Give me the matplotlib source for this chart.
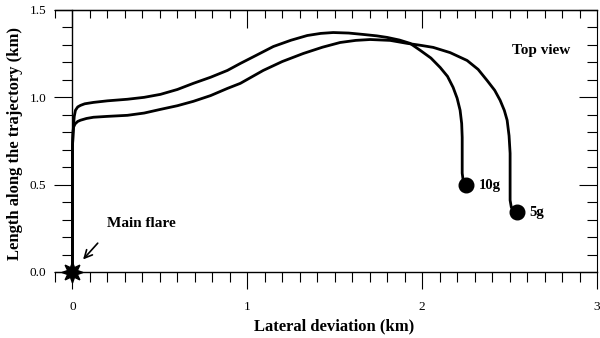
import matplotlib
matplotlib.use("Agg")
import matplotlib.pyplot as plt
import numpy as np
from matplotlib.ticker import MultipleLocator

plt.rcParams['font.family'] = ['Liberation Serif', 'DejaVu Serif']

# Trajectory for 10g (top view)
x_10g = [0.0, 0.0, 0.003, 0.006, 0.01, 0.017, 0.03, 0.046, 0.07, 0.12, 0.2, 0.314,
         0.41, 0.503, 0.6, 0.691, 0.79, 0.886, 0.96, 1.05, 1.149, 1.25, 1.343,
         1.42, 1.491, 1.58, 1.663, 1.74, 1.80, 1.87, 1.931, 1.989, 2.05, 2.103,
         2.145, 2.177, 2.2, 2.217, 2.226, 2.229, 2.229, 2.235, 2.251]
y_10g = [0.0, 0.72, 0.79, 0.84, 0.89, 0.926, 0.945, 0.954, 0.963, 0.971, 0.98, 0.989,
         1.0, 1.017, 1.045, 1.08, 1.115, 1.154, 1.194, 1.24, 1.291, 1.327, 1.354,
         1.366, 1.371, 1.368, 1.36, 1.352, 1.343, 1.328, 1.309, 1.269, 1.225, 1.171,
         1.12, 1.057, 0.995, 0.926, 0.85, 0.771, 0.566, 0.52, 0.497]

# Trajectory for 5g
x_5g = [0.0, 0.0, 0.003, 0.006, 0.015, 0.03, 0.046, 0.08, 0.12, 0.2, 0.314, 0.41,
        0.503, 0.6, 0.691, 0.79, 0.886, 0.96, 1.091, 1.2, 1.32, 1.43, 1.531, 1.62,
        1.703, 1.817, 1.914, 1.99, 2.063, 2.16, 2.257, 2.32, 2.371, 2.415, 2.446,
        2.47, 2.486, 2.497, 2.503, 2.503, 2.51, 2.543]
y_5g = [0.0, 0.72, 0.79, 0.829, 0.848, 0.862, 0.869, 0.879, 0.886, 0.891, 0.897, 0.91,
        0.931, 0.952, 0.977, 1.01, 1.051, 1.08, 1.154, 1.205, 1.251, 1.287, 1.314, 1.326,
        1.331, 1.326, 1.309, 1.298, 1.286, 1.256, 1.211, 1.16, 1.097, 1.04, 0.983,
        0.925, 0.869, 0.78, 0.68, 0.411, 0.37, 0.343]

labels = ["10g", "5g"]
end_x = [2.251, 2.543]
end_y = [0.497, 0.343]

fig = plt.figure(figsize=(6, 3.38), dpi=100)
ax = fig.add_axes([55/600, 1-272/338, (597-55)/600, 262/338])

ax.plot(x_10g, y_10g, color='black', lw=2.0, solid_capstyle='round', solid_joinstyle='round')
ax.plot(x_5g, y_5g, color='black', lw=2.0, solid_capstyle='round', solid_joinstyle='round')
ax.plot(end_x, end_y, 'o', color='black', ms=10.5, clip_on=False, zorder=5)
for xe, ye, lab in zip(end_x, end_y, labels):
    ax.text(xe + 0.07, ye, lab, fontsize=10.5, fontweight='bold', va='center', ha='left')

ax.plot([0], [0], marker=(8, 1, 0), color='black', ms=15, clip_on=False, zorder=6)

ax.text(2.68, 1.27, "Top view", fontsize=11, fontweight='bold', ha='center', va='center')
ax.text(0.395, 0.28, "Main flare", fontsize=11, fontweight='bold', ha='center', va='center')
ax.annotate("", xy=(0.05, 0.06), xytext=(0.155, 0.177),
            arrowprops=dict(arrowstyle='->', color='black', lw=1.2, mutation_scale=14))

ax.set_xlim(-0.1, 3.0)
ax.set_ylim(0, 1.5)

ax.spines['left'].set_position(('data', 0))
ax.spines['right'].set_visible(False)
ax.spines['top'].set_visible(True)
for s in ax.spines.values():
    s.set_linewidth(1.0)

ax.xaxis.set_major_locator(MultipleLocator(1))
ax.xaxis.set_minor_locator(MultipleLocator(0.1))
ax.yaxis.set_major_locator(MultipleLocator(0.5))
ax.yaxis.set_minor_locator(MultipleLocator(0.1))
ax.xaxis.set_major_formatter(plt.FuncFormatter(lambda v, p: f"{v:.0f}"))
ax.yaxis.set_major_formatter(plt.FuncFormatter(lambda v, p: f"{v:.1f}"))

ax.tick_params(axis='both', which='both', direction='out', top=False, right=False,
               labelsize=9.5, width=0.8)
ax.tick_params(axis='x', which='major', length=12, pad=9)
ax.tick_params(axis='x', which='minor', length=7)
ax.tick_params(axis='y', which='major', length=13, pad=6)
ax.tick_params(axis='y', which='minor', length=7)

sec_y = ax.secondary_yaxis('right')
sec_y.yaxis.set_major_locator(MultipleLocator(0.5))
sec_y.yaxis.set_minor_locator(MultipleLocator(0.1))
sec_y.tick_params(which='both', direction='in', labelright=False, width=0.8)
sec_y.tick_params(which='major', length=13)
sec_y.tick_params(which='minor', length=7)

sec_x = ax.secondary_xaxis('top')
sec_x.xaxis.set_major_locator(MultipleLocator(1))
sec_x.xaxis.set_minor_locator(MultipleLocator(0.1))
sec_x.tick_params(which='both', direction='in', labeltop=False, width=0.8)
sec_x.tick_params(which='major', length=13)
sec_x.tick_params(which='minor', length=6)

fig.text(334/600, 1-326/338, "Lateral deviation (km)", fontsize=12, fontweight='bold',
         ha='center', va='center')
fig.text(15/600, 1-144/338, "Length along the trajectory (km)", fontsize=12,
         fontweight='bold', ha='center', va='center', rotation=90)

fig.savefig("out.png", dpi=100)
